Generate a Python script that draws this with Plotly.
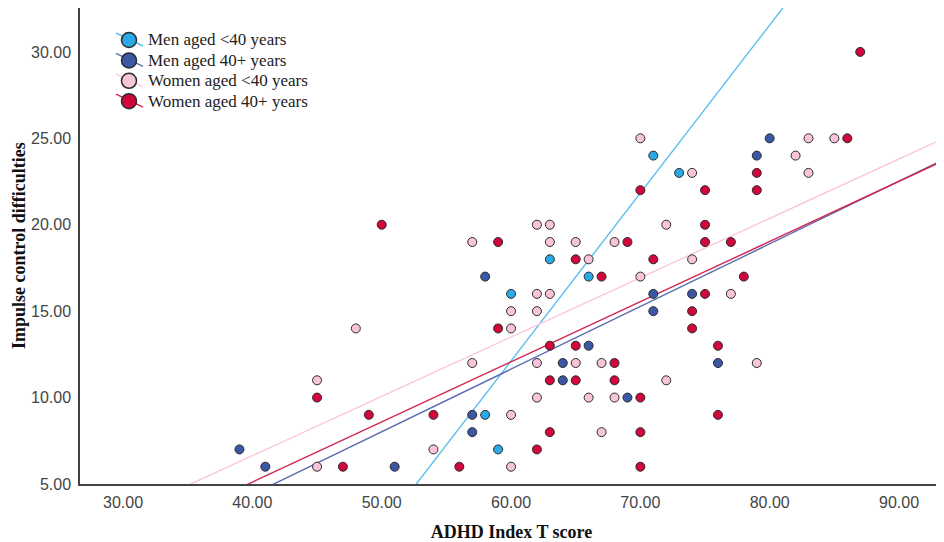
import numpy as np
import plotly.graph_objects as go

# ---- data (ADHD Index T score, Impulse control difficulties) ----
men_u40_x = [58, 59, 60, 63, 66, 71, 73]
men_u40_y = [9, 7, 16, 18, 17, 24, 23]

men_40p_x = [39, 41, 51, 57, 57, 58, 64, 64, 66, 69, 71, 71, 74, 76, 79, 80]
men_40p_y = [7, 6, 6, 9, 8, 17, 12, 11, 13, 10, 16, 15, 16, 12, 24, 25]

women_u40_x = [45, 45, 48, 54, 57, 57, 60, 60, 60, 60, 62, 62, 62, 62, 62, 63, 63, 63, 65, 65,
               66, 66, 67, 67, 68, 68, 70, 70, 72, 72, 74, 74, 77, 79, 82, 83, 83, 85]
women_u40_y = [11, 6, 14, 7, 19, 12, 15, 14, 9, 6, 20, 16, 15, 12, 10, 20, 19, 16, 19, 12,
               18, 10, 12, 8, 19, 10, 25, 17, 20, 11, 23, 18, 16, 12, 24, 25, 23, 25]

women_40p_x = [45, 47, 49, 50, 54, 56, 59, 59, 62, 63, 63, 63, 65, 65, 65, 67, 68, 68, 69, 70,
               70, 70, 70, 71, 74, 74, 75, 75, 75, 75, 76, 76, 77, 78, 79, 79, 86, 87]
women_40p_y = [10, 6, 9, 20, 9, 6, 19, 14, 7, 13, 11, 8, 18, 13, 11, 17, 12, 11, 19, 22,
               10, 8, 6, 18, 15, 14, 22, 20, 19, 16, 13, 9, 19, 17, 23, 22, 25, 30]

group_names = ["Men aged <40 years", "Men aged 40+ years",
               "Women aged <40 years", "Women aged 40+ years"]
marker_colors = ["#2AA9E6", "#3C58A5", "#F8C4DA", "#D1063A"]
line_colors = ["#5DBDEF", "#5A6DB0", "#F9C8DB", "#D3264F"]

x_range = [26.67, 93.4]
y_range = [5, 32.54]

groups = [(men_u40_x, men_u40_y), (men_40p_x, men_40p_y),
          (women_u40_x, women_u40_y), (women_40p_x, women_40p_y)]

# figure geometry (pixels)
W, H = 936, 534
ML, MR, MT, MB = 72, 1, 0, 58
PW, PH = W - ML - MR, H - MT - MB

fig = go.Figure()

# regression lines
for (gx, gy), lc in zip(groups, line_colors):
    b, a = np.polyfit(gx, gy, 1)
    xs = np.array(x_range)
    fig.add_trace(go.Scatter(x=xs, y=a + b * xs, mode="lines",
                             line=dict(color=lc, width=1.4),
                             showlegend=False, hoverinfo="skip"))

# points
for (gx, gy), mc, name in zip(groups, marker_colors, group_names):
    fig.add_trace(go.Scatter(x=gx, y=gy, mode="markers", name=name,
                             marker=dict(size=9, color=mc,
                                         line=dict(color="#2b2b2b", width=1)),
                             showlegend=False))

# legend drawn in paper coordinates (icons + text)
def px2paper_x(px):
    return (px - ML) / PW

def px2paper_y(py):
    return 1 - (py - MT) / PH

shapes, annotations = [], []
row0, row_gap = 32, 20.4
icon_cx, r = 121, 7.5
for i, (name, mc, lc) in enumerate(zip(group_names, marker_colors, line_colors)):
    cy = row0 + i * row_gap
    shapes.append(dict(type="line", xref="paper", yref="paper",
                       x0=px2paper_x(icon_cx - 13), y0=px2paper_y(cy - 7),
                       x1=px2paper_x(icon_cx + 14), y1=px2paper_y(cy + 6),
                       line=dict(color=lc, width=1.4)))
    shapes.append(dict(type="circle", xref="paper", yref="paper",
                       x0=px2paper_x(icon_cx - r), x1=px2paper_x(icon_cx + r),
                       y0=px2paper_y(cy + r), y1=px2paper_y(cy - r),
                       fillcolor=mc, line=dict(color="#2b2b2b", width=1.5)))
    annotations.append(dict(text=name, xref="paper", yref="paper",
                            x=px2paper_x(138), y=px2paper_y(cy),
                            xanchor="left", yanchor="middle", showarrow=False,
                            font=dict(family="Liberation Serif", size=17, color="#222222")))

tick_font = dict(family="Liberation Sans", size=16, color="#444444")
title_font = dict(family="Liberation Serif", size=18, color="#111111")

# y-axis title placed as rotated text to the far left
annotations.append(dict(text="<b>Impulse control difficulties</b>", xref="paper", yref="paper",
                        x=px2paper_x(11), y=0.5, xanchor="center", yanchor="middle",
                        textangle=-90, showarrow=False, font=title_font))

fig.update_layout(
    width=W, height=H,
    margin=dict(l=ML, r=MR, t=MT, b=MB, autoexpand=False),
    plot_bgcolor="white", paper_bgcolor="white",
    showlegend=False,
    shapes=shapes, annotations=annotations,
    xaxis=dict(range=x_range, tickvals=[30, 40, 50, 60, 70, 80, 90],
               ticktext=["30.00", "40.00", "50.00", "60.00", "70.00", "80.00", "90.00"],
               showgrid=False, zeroline=False, showline=True, linecolor="#444444",
               linewidth=1.5, ticks="outside", ticklen=3, tickcolor="rgba(0,0,0,0)",
               tickfont=tick_font, automargin=False,
               title=dict(text="<b>ADHD Index T score</b>", font=title_font, standoff=16)),
    yaxis=dict(range=y_range, tickvals=[5, 10, 15, 20, 25, 30],
               ticktext=["5.00", "10.00", "15.00", "20.00", "25.00", "30.00"],
               showgrid=False, zeroline=False, showline=True, linecolor="#444444",
               linewidth=1.5, ticks="outside", ticklen=4, tickcolor="rgba(0,0,0,0)",
               tickfont=tick_font, automargin=False),
)

fig.write_html("out.html")
